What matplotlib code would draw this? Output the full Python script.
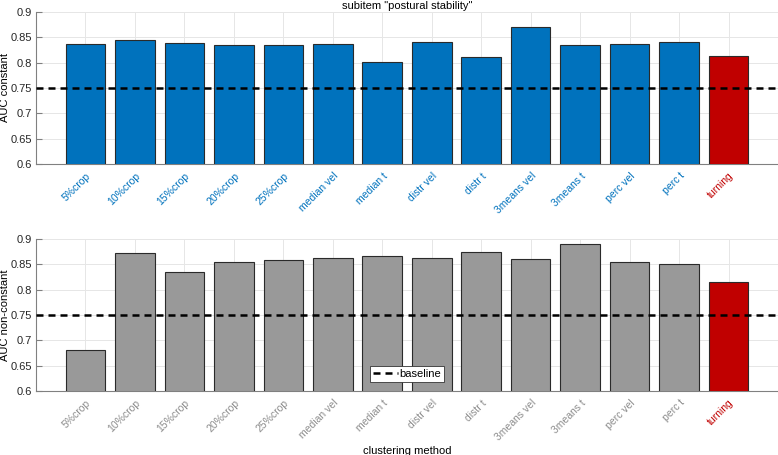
import matplotlib
matplotlib.use("Agg")
import matplotlib.pyplot as plt
from matplotlib.lines import Line2D
import numpy as np

categories = ["5%crop", "10%crop", "15%crop", "20%crop", "25%crop", "median vel",
              "median t", "distr vel", "distr t", "3means vel", "3means t",
              "perc vel", "perc t", "turning"]
auc_constant = [0.837, 0.844, 0.839, 0.834, 0.834, 0.837, 0.801, 0.840, 0.811,
                0.870, 0.834, 0.837, 0.840, 0.814]
auc_nonconstant = [0.681, 0.872, 0.834, 0.855, 0.859, 0.862, 0.867, 0.862, 0.874,
                   0.860, 0.891, 0.855, 0.850, 0.815]
baseline = 0.75
yticks = [0.6, 0.65, 0.7, 0.75, 0.8, 0.85, 0.9]
ytick_labels = ["0.6", "0.65", "0.7", "0.75", "0.8", "0.85", "0.9"]

BLUE = "#0072BD"
RED = "#C00000"
GRAY = "#999999"
GRAY_TXT = "#8c8c8c"
DASH = (0, (2.8, 2.0))

plt.rcParams['font.family'] = ['Liberation Sans', 'DejaVu Sans']
fig = plt.figure(figsize=(7.78, 4.55), dpi=100)
W, H = 778, 455

def make_ax(top, bottom):
    return fig.add_axes([36 / W, 1 - bottom / H, (778 - 36) / W, (bottom - top) / H])

ax1 = make_ax(12, 164)
ax2 = make_ax(239, 391)

x = np.arange(1, len(categories) + 1)

def style(ax, vals, base_color, label_color, ylabel):
    colors = [base_color] * (len(vals) - 1) + [RED]
    ax.bar(x, vals, width=0.8, color=colors, edgecolor="#2a2a2a", linewidth=0.8,
           zorder=3)
    ax.plot([0, 15], [baseline, baseline], color="black", linestyle=DASH,
            linewidth=1.8, zorder=4, label="baseline")
    ax.set_xlim(0, 15)
    ax.set_ylim(0.6, 0.9)
    ax.set_yticks(yticks)
    ax.set_yticklabels(ytick_labels, fontsize=8, color="#262626")
    ax.set_xticks(x)
    ax.set_xticklabels(categories, rotation=45, ha="right", va="top",
                       rotation_mode="anchor", fontsize=7.5)
    for lbl in ax.get_xticklabels()[:-1]:
        lbl.set_color(label_color)
    ax.get_xticklabels()[-1].set_color(RED)
    ax.grid(True, color="#e6e6e6", linewidth=0.7, zorder=0)
    ax.set_axisbelow(True)
    for s in ["top", "right"]:
        ax.spines[s].set_visible(False)
    for s in ["left", "bottom"]:
        ax.spines[s].set_color("#808080")
        ax.spines[s].set_linewidth(0.8)
    ax.tick_params(axis="y", direction="in", length=4, color="#808080", pad=3)
    ax.tick_params(axis="x", length=0, pad=5)
    ax.set_ylabel(ylabel, fontsize=8, labelpad=0.5)

style(ax1, auc_constant, BLUE, BLUE, "AUC constant")
style(ax2, auc_nonconstant, GRAY, GRAY_TXT, "AUC non-constant")

ax1.set_title('subitem "postural stability"', fontsize=8, pad=2)
ax2.set_xlabel("clustering method", fontsize=8, labelpad=2)

handle = Line2D([0], [0], color="black", linestyle=DASH, linewidth=1.8)
leg = ax2.legend([handle], ["baseline"], loc="lower center",
                 bbox_to_anchor=(0.5, 0.059), borderaxespad=0, fontsize=8,
                 frameon=True, fancybox=False, edgecolor="#333333", framealpha=1,
                 handlelength=2.3, borderpad=0.25, handletextpad=0.1)
leg.get_frame().set_linewidth(0.6)

fig.savefig("out.png", dpi=100)
